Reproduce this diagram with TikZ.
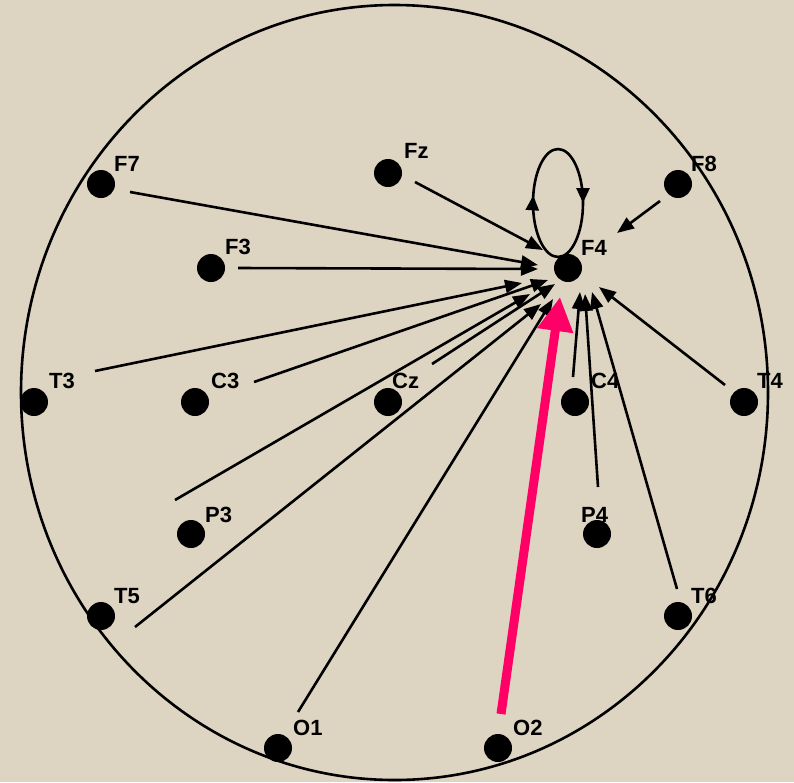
\documentclass[tikz,border=0pt]{standalone}
\usepackage{fontspec}
\setmainfont{Liberation Sans}
\usetikzlibrary{arrows.meta,decorations.markings}
\definecolor{bg}{RGB}{221,213,194}
\definecolor{pinkarrow}{RGB}{255,0,102}
\begin{document}
\begin{tikzpicture}[x=1pt,y=-1pt,
  electrode/.style={circle,fill=black,inner sep=0pt,minimum size=28pt},
  lbl/.style={anchor=base west,inner sep=0pt,font=\fontsize{22}{22}\selectfont\bfseries},
  conn/.style={line width=2.6pt,-{Triangle[length=17pt,width=13pt]}},
  loopmark/.style={line width=2.6pt,postaction={decorate},
    decoration={markings,mark=at position #1 with {\arrow{Triangle[length=15pt,width=13pt]}}}},
  bigarrow/.style={pinkarrow,line width=9pt,-{Triangle[length=34pt,width=34pt]}}
  ]
\fill[bg] (0,0) rectangle (794,782);
\useasboundingbox (0,0) rectangle (794,782);
\draw[line width=2.6pt] (394.5,392.5) ellipse [x radius=373.5pt, y radius=387.5pt];

% electrodes
\node[electrode] (F7) at (101,184) {};
\node[electrode] (F3) at (211,268) {};
\node[electrode] (Fz) at (388,173) {};
\node[electrode] (F8) at (678,184) {};
\node[electrode] (F4) at (568,268) {};
\node[electrode] (T3) at (34,402) {};
\node[electrode] (C3) at (195,402) {};
\node[electrode] (Cz) at (388,402) {};
\node[electrode] (C4) at (575,402) {};
\node[electrode] (T4) at (744,402) {};
\node[electrode] (P3) at (191,534) {};
\node[electrode] (P4) at (597,534) {};
\node[electrode] (T5) at (101,616) {};
\node[electrode] (T6) at (678,616) {};
\node[electrode] (O1) at (278,748) {};
\node[electrode] (O2) at (498,748) {};

% labels
\node[lbl] (lF7) at (114,171) {F7};
\node[lbl] (lF3) at (225,254) {F3};
\node[lbl] (lFz) at (404,158) {Fz};
\node[lbl] (lF8) at (691,171) {F8};
\node[lbl] (lF4) at (581,255) {F4};
\node[lbl] (lT3) at (49,388) {T3};
\node[lbl] (lC3) at (211,388) {C3};
\node[lbl] (lCz) at (392,388) {Cz};
\node[lbl] (lC4) at (591,388) {C4};
\node[lbl] (lT4) at (757,388) {T4};
\node[lbl] (lP3) at (205,522) {P3};
\node[lbl] (lP4) at (581,522) {P4};
\node[lbl] (lT5) at (114,603) {T5};
\node[lbl] (lT6) at (691,603) {T6};
\node[lbl] (lO1) at (293,735) {O1};
\node[lbl] (lO2) at (513,735) {O2};

% connector end points
\coordinate (sF7) at (130,192); \coordinate (eF7) at (538,265);
\coordinate (sF3) at (238,268); \coordinate (eF3) at (538,269);
\coordinate (sFz) at (415,182); \coordinate (eFz) at (543,250);
\coordinate (sF8) at (660,201); \coordinate (eF8) at (617,233);
\coordinate (sT3) at (95,371);  \coordinate (eT3) at (522,283);
\coordinate (sC3) at (254,382); \coordinate (eC3) at (548,280);
\coordinate (sP3) at (175,500); \coordinate (eP3) at (530,294);
\coordinate (sCz) at (432,364); \coordinate (eCz) at (555,284);
\coordinate (sT5) at (135,627); \coordinate (eT5) at (541,304);
\coordinate (sO1) at (298,712); \coordinate (eO1) at (553,299);
\coordinate (sC4) at (573,377); \coordinate (eC4) at (580,292);
\coordinate (sP4) at (598,487); \coordinate (eP4) at (585,294);
\coordinate (sT6) at (677,589); \coordinate (eT6) at (592,292);
\coordinate (sT4) at (725,385); \coordinate (eT4) at (599,287);

\foreach \e in {F7,F3,Fz,F8,T3,C3,P3,Cz,T5,O1,C4,P4,T6,T4}
  \draw[conn] (s\e) -- (e\e);

% self loop on F4
\coordinate (lpB) at (558,257);
\coordinate (lpT) at (558,149);
\draw[loopmark=0.56] (lpB) .. controls (544.2,257) and (533,232.8) .. (533,203)
   .. controls (533,173.2) and (544.2,149) .. (lpT);
\draw[loopmark=0.5] (lpT) .. controls (571.8,149) and (583,173.2) .. (583,203)
   .. controls (583,232.8) and (571.8,257) .. (lpB);

% big pink arrow O2 -> F4
\coordinate (pS) at (501,714);
\coordinate (pE) at (560,297);
\draw[bigarrow] (pS) -- (pE);
\end{tikzpicture}
\end{document}
